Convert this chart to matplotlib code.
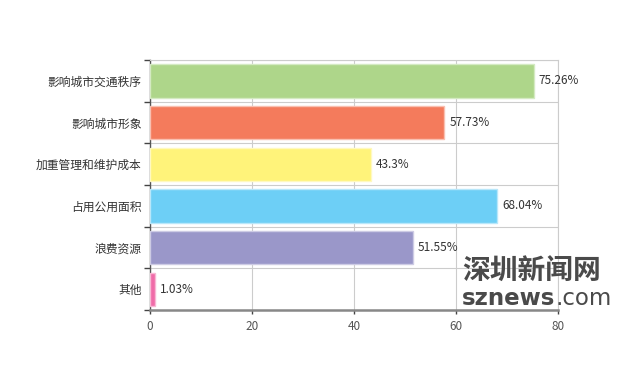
import numpy as np
import matplotlib
matplotlib.use("Agg")
import matplotlib.pyplot as plt
from matplotlib.ticker import FixedLocator, NullFormatter

plt.rcParams["font.family"] = ["Noto Sans CJK SC", "DejaVu Sans"]

categories = ["影响城市交通秩序", "影响城市形象", "加重管理和维护成本",
              "占用公用面积", "浪费资源", "其他"]
values = [75.26, 57.73, 43.3, 68.04, 51.55, 1.03]
value_labels = ["75.26%", "57.73%", "43.3%", "68.04%", "51.55%", "1.03%"]
colors = ["#aed68a", "#f47b5c", "#fff37a", "#6dcff6", "#9a97c9", "#f06ba8"]
edges = ["#d4eac2", "#f9c0b1", "#fff9c0", "#b8e7fa", "#cdcbe4", "#f8b7d4"]
xticks = [0, 20, 40, 60, 80]

fig = plt.figure(figsize=(6.2, 3.7), dpi=100)
ax = fig.add_axes([150 / 620, 60 / 370, 408 / 620, 250 / 370])

n = len(categories)
ypos = np.arange(n)[::-1] + 0.5
ax.barh(ypos, values, height=0.8, color=colors, edgecolor=edges,
        linewidth=1, zorder=3)
for y, v, lab in zip(ypos, values, value_labels):
    ax.text(v + 1.0, y, lab, va="center", ha="left", fontsize=8.5,
            color="#333333", zorder=4)

ax.set_xlim(0, 80)
ax.set_ylim(0, n)
ax.set_xticks(xticks)
ax.set_xticklabels([str(t) for t in xticks], fontsize=8.5, color="#555555")

ax.yaxis.set_major_locator(FixedLocator(np.arange(n + 1)))
ax.yaxis.set_major_formatter(NullFormatter())
ax.yaxis.set_minor_locator(FixedLocator(ypos))
ax.set_yticklabels(categories, minor=True, fontsize=8.5, color="#333333")
ax.tick_params(axis="y", which="minor", length=0, pad=6)
ax.tick_params(axis="y", which="major", length=4, width=1, color="#444444")
ax.tick_params(axis="x", length=3, width=1, color="#444444", pad=4)

ax.grid(True, which="major", color="#cccccc", linewidth=0.8, zorder=0)
for side in ["top", "right"]:
    ax.spines[side].set_color("#cccccc")
    ax.spines[side].set_linewidth(0.8)
ax.spines["left"].set_color("#555555")
ax.spines["left"].set_linewidth(1)
ax.spines["bottom"].set_color("#888888")
ax.spines["bottom"].set_linewidth(1.8)

# watermark
wm = "#4a4a4a"
fig.text(462 / 620, 1 - 286 / 370, "深圳新闻网", ha="left", va="bottom",
         fontsize=20, fontweight="bold", color=wm)
t1 = fig.text(462 / 620, 1 - 287 / 370, "sznews", ha="left", va="top",
              fontsize=16.5, fontweight="bold", color=wm,
              family=["DejaVu Sans"])
fig.canvas.draw()
bb = t1.get_window_extent(fig.canvas.get_renderer())
fig.text(bb.x1 / 620, 1 - 287 / 370, ".com", ha="left", va="top",
         fontsize=16.5, color=wm, family=["DejaVu Sans"])

fig.savefig("out.png", dpi=100)
